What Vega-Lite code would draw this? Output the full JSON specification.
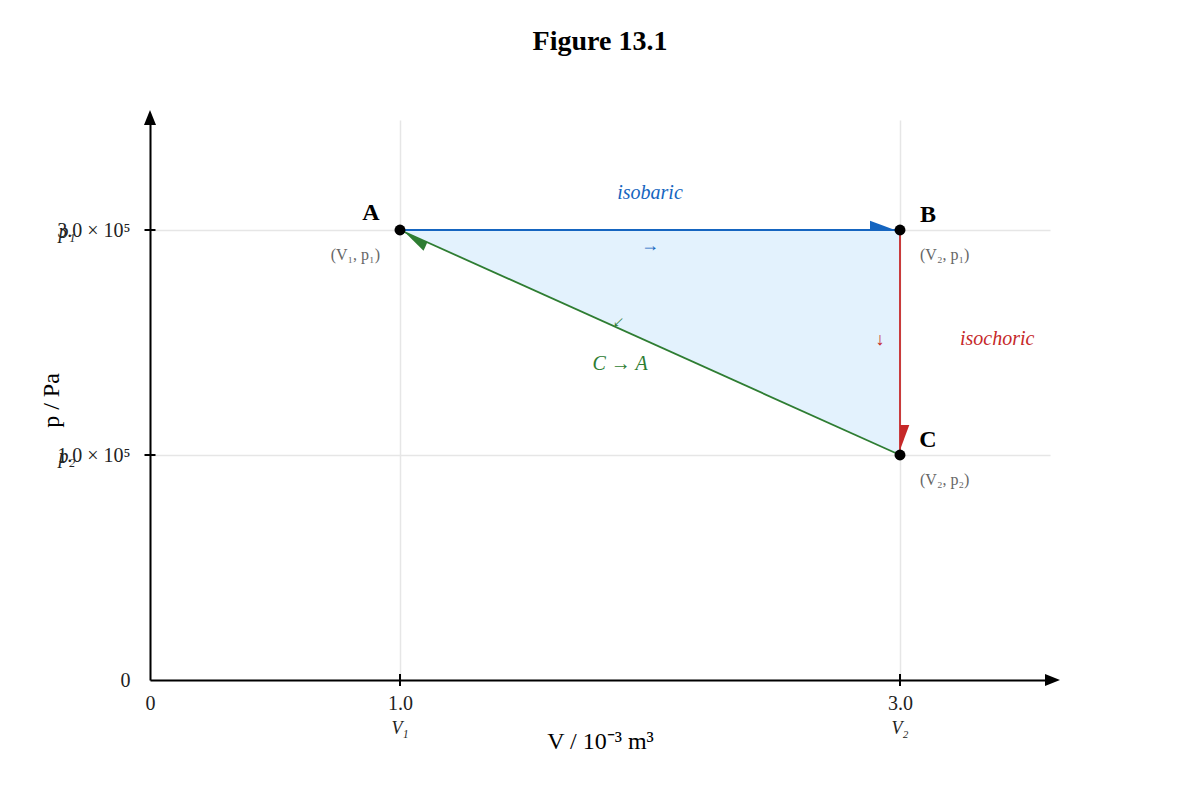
{
  "$schema": "https://vega.github.io/schema/vega-lite/v6.json",
  "autosize": "none",
  "width": 900,
  "height": 560,
  "padding": {"left": 150, "top": 120, "right": 150, "bottom": 120},
  "title": {
    "text": "Figure 13.1",
    "font": "Liberation Serif",
    "fontSize": 28,
    "fontWeight": "bold",
    "color": "black",
    "anchor": "middle",
    "offset": 54
  },
  "config": {"view": {"stroke": null}, "font": "Liberation Serif"},
  "datasets": {
    "states": [
      {"state": "A", "V": 1, "p": 3, "coord": "(V₁, p₁)"},
      {"state": "B", "V": 3, "p": 3, "coord": "(V₂, p₁)"},
      {"state": "C", "V": 3, "p": 1, "coord": "(V₂, p₂)"}
    ],
    "processes": [
      {"process": "isobaric", "V": 1, "p": 3, "V2": 3, "p2": 3, "Vm": 2, "pm": 3},
      {"process": "isochoric", "V": 3, "p": 3, "V2": 3, "p2": 1, "Vm": 3, "pm": 2},
      {"process": "C → A", "V": 3, "p": 1, "V2": 1, "p2": 3, "Vm": 2, "pm": 2}
    ],
    "heads": [
      {"process": "isobaric", "V": 3, "p": 3},
      {"process": "isochoric", "V": 3, "p": 1},
      {"process": "C → A", "V": 1, "p": 3}
    ],
    "cycle": [
      {"V": 1, "p": 3, "p2": 3},
      {"V": 3, "p": 3, "p2": 1}
    ],
    "marks": [
      {"axis": "V", "V": 1, "p": 0, "label": "V₁"},
      {"axis": "V", "V": 3, "p": 0, "label": "V₂"},
      {"axis": "p", "V": 0, "p": 1, "label": "p₂"},
      {"axis": "p", "V": 0, "p": 3, "label": "p₁"}
    ]
  },
  "encoding": {
    "x": {
      "field": "V",
      "type": "quantitative",
      "scale": {"domain": [0, 3.6], "nice": false, "zero": false},
      "axis": {
        "title": "V / 10⁻³ m³",
        "titleFont": "Liberation Serif",
        "titleFontSize": 24,
        "titleFontWeight": "normal",
        "titleColor": "black",
        "titlePadding": 16,
        "values": [0, 1, 3],
        "labelExpr": "datum.value == 0 ? '0' : format(datum.value, '.1f')",
        "labelFont": "Liberation Serif",
        "labelFontSize": 20,
        "labelColor": "#222",
        "labelPadding": 13,
        "labelFlush": false,
        "ticks": false,
        "tickSize": 0,
        "domainColor": "black",
        "domainWidth": 2,
        "grid": true,
        "gridColor": "#e6e6e6",
        "gridWidth": 1.5
      }
    },
    "y": {
      "field": "p",
      "type": "quantitative",
      "scale": {"domain": [0, 1, 3, 4], "range": [560, 335, 110, 0], "nice": false, "zero": false},
      "axis": {
        "title": "p / Pa",
        "titleFont": "Liberation Serif",
        "titleFontSize": 24,
        "titleFontWeight": "normal",
        "titleColor": "black",
        "titleX": -87,
        "values": [0, 1, 3],
        "labelExpr": "datum.value == 0 ? '0' : format(datum.value, '.1f') + ' × 10⁵'",
        "labelFont": "Liberation Serif",
        "labelFontSize": 20,
        "labelColor": "#222",
        "labelPadding": 20,
        "labelFlush": false,
        "ticks": false,
        "tickSize": 0,
        "domainColor": "black",
        "domainWidth": 2,
        "grid": true,
        "gridColor": "#e6e6e6",
        "gridWidth": 1.5
      }
    }
  },
  "layer": [
    {
      "data": {"name": "cycle"},
      "mark": {"type": "area", "color": "#e3f2fd", "opacity": 1},
      "encoding": {"y2": {"field": "p2"}}
    },
    {
      "data": {"name": "processes"},
      "mark": {"type": "rule", "strokeWidth": 1.8},
      "encoding": {
        "x2": {"field": "V2"},
        "y2": {"field": "p2"},
        "color": {
          "field": "process",
          "type": "nominal",
          "scale": {"domain": ["isobaric", "isochoric", "C → A"], "range": ["#1565c0", "#c62828", "#2e7d32"]},
          "legend": null
        }
      }
    },
    {
      "data": {"name": "heads"},
      "mark": {
        "type": "point",
        "shape": "M -0.333 0 L -2 0 L -2 -0.62 Z",
        "size": 900,
        "filled": true,
        "opacity": 1,
        "strokeWidth": 0
      },
      "encoding": {
        "color": {
          "field": "process",
          "type": "nominal",
          "scale": {"domain": ["isobaric", "isochoric", "C → A"], "range": ["#1565c0", "#c62828", "#2e7d32"]},
          "legend": null
        },
        "angle": {
          "field": "process",
          "type": "nominal",
          "scale": {"type": "ordinal", "domain": ["isobaric", "isochoric", "C → A"], "range": [0, 90, 204.2]},
          "legend": null
        }
      }
    },
    {
      "data": {"name": "states"},
      "mark": {"type": "circle", "size": 120, "color": "black", "opacity": 1}
    },
    {
      "data": {"name": "states"},
      "transform": [{"filter": "datum.state == 'A'"}],
      "mark": {"type": "text", "font": "Liberation Serif", "fontSize": 24, "fontWeight": "bold", "color": "black", "align": "center", "baseline": "middle", "dx": -29, "dy": -17},
      "encoding": {"text": {"field": "state"}}
    },
    {
      "data": {"name": "states"},
      "transform": [{"filter": "datum.state != 'A'"}],
      "mark": {"type": "text", "font": "Liberation Serif", "fontSize": 24, "fontWeight": "bold", "color": "black", "align": "center", "baseline": "middle", "dx": 28, "dy": -15},
      "encoding": {"text": {"field": "state"}}
    },
    {
      "data": {"name": "states"},
      "transform": [{"filter": "datum.state == 'A'"}],
      "mark": {"type": "text", "font": "Liberation Serif", "fontSize": 16, "color": "#666", "align": "right", "baseline": "middle", "dx": -20, "dy": 25},
      "encoding": {"text": {"field": "coord"}}
    },
    {
      "data": {"name": "states"},
      "transform": [{"filter": "datum.state != 'A'"}],
      "mark": {"type": "text", "font": "Liberation Serif", "fontSize": 16, "color": "#666", "align": "left", "baseline": "middle", "dx": 20, "dy": 25},
      "encoding": {"text": {"field": "coord"}}
    },
    {
      "data": {"name": "processes"},
      "transform": [{"filter": "datum.process == 'isobaric'"}],
      "mark": {"type": "text", "font": "Liberation Serif", "fontSize": 20, "fontStyle": "italic", "color": "#1565c0", "align": "center", "baseline": "middle", "dy": -37},
      "encoding": {"x": {"field": "Vm"}, "y": {"field": "pm"}, "text": {"field": "process"}}
    },
    {
      "data": {"name": "processes"},
      "transform": [{"filter": "datum.process == 'isochoric'"}],
      "mark": {"type": "text", "font": "Liberation Serif", "fontSize": 20, "fontStyle": "italic", "color": "#c62828", "align": "left", "baseline": "middle", "dx": 60, "dy": -4},
      "encoding": {"x": {"field": "Vm"}, "y": {"field": "pm"}, "text": {"field": "process"}}
    },
    {
      "data": {"name": "processes"},
      "transform": [{"filter": "datum.process == 'C → A'"}],
      "mark": {"type": "text", "font": "Liberation Serif", "fontSize": 20, "fontStyle": "italic", "color": "#2e7d32", "align": "center", "baseline": "middle", "dx": -30, "dy": 21},
      "encoding": {"x": {"field": "Vm"}, "y": {"field": "pm"}, "text": {"field": "process"}}
    },
    {
      "data": {"name": "processes"},
      "transform": [{"filter": "datum.process == 'isobaric'"}],
      "mark": {"type": "text", "font": "Liberation Serif", "fontSize": 18, "color": "#1565c0", "align": "center", "baseline": "middle", "dy": 16},
      "encoding": {"x": {"field": "Vm"}, "y": {"field": "pm"}, "text": {"value": "→"}}
    },
    {
      "data": {"name": "processes"},
      "transform": [{"filter": "datum.process == 'isochoric'"}],
      "mark": {"type": "text", "font": "Liberation Serif", "fontSize": 18, "color": "#c62828", "align": "center", "baseline": "middle", "dx": -20, "dy": -3},
      "encoding": {"x": {"field": "Vm"}, "y": {"field": "pm"}, "text": {"value": "↓"}}
    },
    {
      "data": {"name": "processes"},
      "transform": [{"filter": "datum.process == 'C → A'"}],
      "mark": {"type": "text", "font": "Liberation Serif", "fontSize": 18, "color": "#2e7d32", "align": "center", "baseline": "middle", "dx": 7.8, "dy": 34.6, "angle": 135},
      "encoding": {"x": {"field": "Vm"}, "y": {"field": "pm"}, "text": {"value": "→"}}
    },
    {
      "data": {"name": "marks"},
      "transform": [{"filter": "datum.axis == 'V' && datum.V > 0"}],
      "mark": {"type": "tick", "orient": "vertical", "size": 12, "thickness": 2, "color": "black", "opacity": 1}
    },
    {
      "data": {"name": "marks"},
      "transform": [{"filter": "datum.axis == 'p' && datum.p > 0"}],
      "mark": {"type": "tick", "orient": "horizontal", "size": 11, "thickness": 2, "color": "black", "opacity": 1}
    },
    {
      "data": {"name": "marks"},
      "transform": [{"filter": "datum.axis == 'V'"}],
      "mark": {"type": "text", "font": "Liberation Serif", "fontSize": 18, "fontStyle": "italic", "color": "#222", "align": "center", "baseline": "middle", "dy": 49},
      "encoding": {"text": {"field": "label"}}
    },
    {
      "data": {"name": "marks"},
      "transform": [{"filter": "datum.axis == 'p'"}],
      "mark": {"type": "text", "font": "Liberation Serif", "fontSize": 20, "fontStyle": "italic", "color": "#222", "align": "center", "baseline": "middle", "dx": -83, "dy": 2},
      "encoding": {"text": {"field": "label"}}
    },
    {
      "data": {"values": [{"V": 3.6, "p": 0}]},
      "mark": {"type": "point", "shape": "M 1 0 L -0.5 -0.6 L -0.5 0.6 Z", "size": 400, "filled": true, "color": "black", "opacity": 1, "strokeWidth": 0}
    },
    {
      "data": {"values": [{"V": 0, "p": 4}]},
      "mark": {"type": "point", "shape": "M 1 0 L -0.5 -0.6 L -0.5 0.6 Z", "size": 400, "filled": true, "color": "black", "opacity": 1, "strokeWidth": 0, "angle": 270}
    }
  ]
}
